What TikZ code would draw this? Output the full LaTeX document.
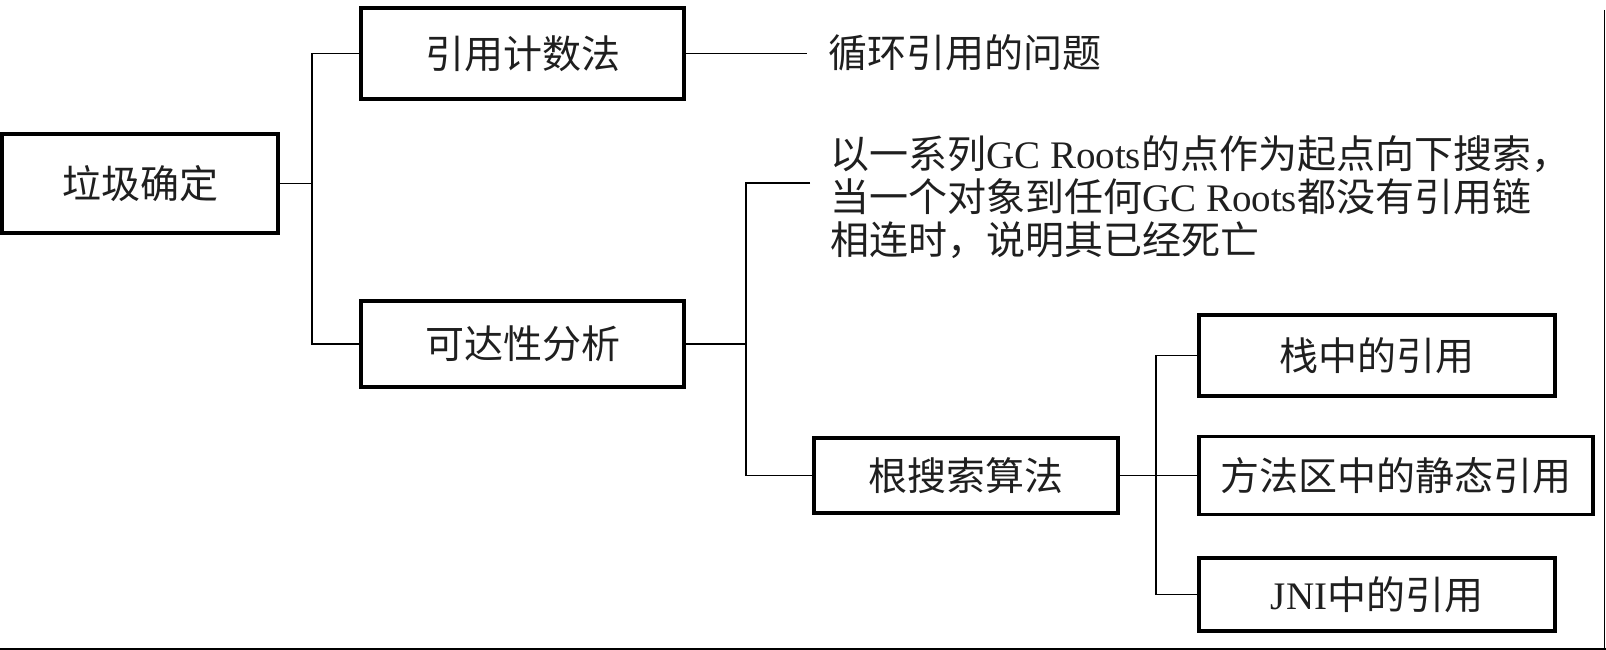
\documentclass[tikz,border=0pt]{standalone}
\usepackage{fontspec}
\setmainfont{Noto Sans CJK SC}
\newfontfamily\lat{Liberation Serif}
\begin{document}
\begin{tikzpicture}[x=1pt,y=-1pt,
  box/.style={draw,line width=3.1pt,rectangle,inner sep=0pt,text=black!88,font=\fontsize{39}{43}\selectfont},
  txt/.style={inner sep=0pt,text=black!88,font=\fontsize{39}{43}\selectfont,align=left},
  conn/.style={line width=1.8pt}]
\useasboundingbox (0,0) rectangle (1606,650);
\node[box,minimum width=276pt,minimum height=99pt] (root) at (140,183.5) {垃圾确定};
\node[box,minimum width=323pt,minimum height=91pt] (a1) at (522.5,53.5) {引用计数法};
\node[box,minimum width=323pt,minimum height=86pt] (a2) at (522.5,344) {可达性分析};
\node[txt,anchor=west] (t1) at (828,53) {循环引用的问题};
\node[txt,anchor=west] (t2) at (830,197) {以一系列{\lat GC Roots}的点作为起点向下搜索，\\当一个对象到任何{\lat GC Roots}都没有引用链\\相连时，说明其已经死亡};
\node[box,minimum width=304pt,minimum height=75pt] (b) at (966,475.5) {根搜索算法};
\node[box,minimum width=356pt,minimum height=81pt] (c1) at (1377,355.5) {栈中的引用};
\node[box,minimum width=394pt,minimum height=78pt] (c2) at (1396,475.5) {方法区中的静态引用};
\node[box,minimum width=356pt,minimum height=73pt] (c3) at (1377,594.5) {{\lat JNI}中的引用};
\coordinate (j1) at (312,183.5);
\coordinate (e1) at (807,53.5);
\coordinate (j2) at (746,344);
\coordinate (e2) at (810,183);
\coordinate (j3) at (1156,475.5);
\draw[conn] (root.east) -- (j1);
\draw[conn] (a1.west) -| (j1);
\draw[conn] (a2.west) -| (j1);
\draw[conn] (a1.east) -- (e1);
\draw[conn] (a2.east) -- (j2);
\draw[conn] (e2) -| (j2);
\draw[conn] (b.west) -| (j2);
\draw[conn] (b.east) -- (j3);
\draw[conn] (c1.west) -| (j3);
\draw[conn] (c2.west) -| (j3);
\draw[conn] (c3.west) -| (j3);
\draw[line width=2pt] (0,648.5) -- (1606,648.5);
\draw[line width=1.5pt] (1604.5,10) -- (1604.5,650);
\end{tikzpicture}
\end{document}
